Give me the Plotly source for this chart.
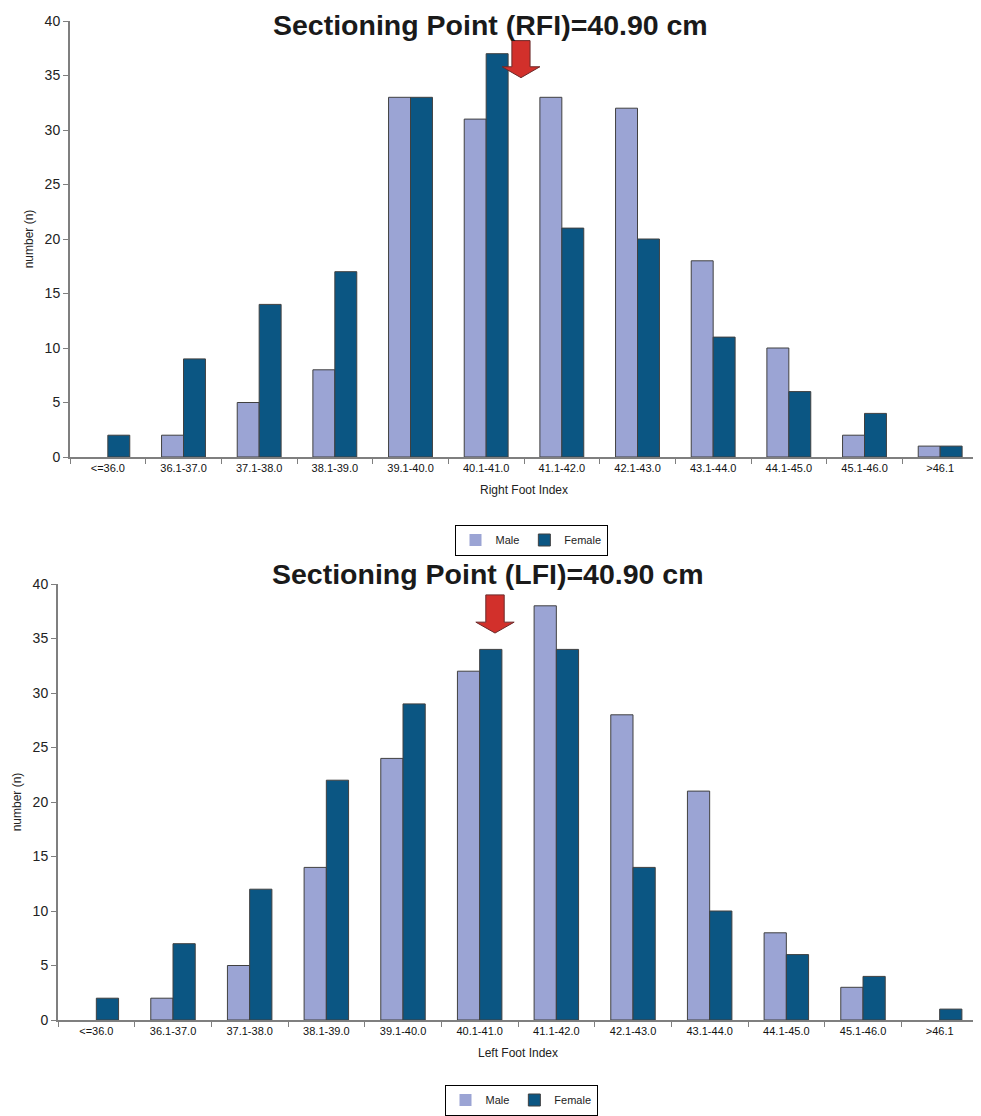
import plotly.graph_objects as go

categories = ["<=36.0", "36.1-37.0", "37.1-38.0", "38.1-39.0", "39.1-40.0", "40.1-41.0",
              "41.1-42.0", "42.1-43.0", "43.1-44.0", "44.1-45.0", "45.1-46.0", ">46.1"]

rfi_male = [0, 2, 5, 8, 33, 31, 33, 32, 18, 10, 2, 1]
rfi_female = [2, 9, 14, 17, 33, 37, 21, 20, 11, 6, 4, 1]

lfi_male = [0, 2, 5, 14, 24, 32, 38, 28, 21, 8, 3, 0]
lfi_female = [2, 7, 12, 22, 29, 34, 34, 14, 10, 6, 4, 1]

titles = ["Sectioning Point (RFI)=40.90 cm", "Sectioning Point (LFI)=40.90 cm"]
xtitles = ["Right Foot Index", "Left Foot Index"]

MALE_C = "#9BA4D4"
FEMALE_C = "#0B5683"
EDGE = "#404040"
AX = "#7f7f7f"
FONT = "Liberation Sans, Arial, sans-serif"

fig = go.Figure()

series = [(rfi_male, rfi_female, "x", "y", "legend"),
          (lfi_male, lfi_female, "x2", "y2", "legend2")]
for male, female, xa, ya, lg in series:
    for vals, name, col in [(male, "Male", MALE_C), (female, "Female", FEMALE_C)]:
        fig.add_trace(go.Bar(x=categories, y=vals, name=name, marker_color=col,
                             marker_line=dict(color=EDGE, width=[0 if v == 0 else 1 for v in vals]),
                             xaxis=xa, yaxis=ya, legend=lg))


def arrow_path(xc, y_top, y_neck, y_tip, bw, hw):
    pts = [(xc - bw / 2, y_top), (xc + bw / 2, y_top), (xc + bw / 2, y_neck),
           (xc + hw / 2, y_neck), (xc, y_tip), (xc - hw / 2, y_neck), (xc - bw / 2, y_neck)]
    return "M " + " L ".join(f"{x:.3f},{y:.3f}" for x, y in pts) + " Z"


# sectioning-point arrows (category-index position, y in counts)
arrows = [(5.46, 38.2, 35.8, 34.8, "x", "y"), (5.20, 39.0, 36.5, 35.5, "x2", "y2")]
for xc, yt, yn, ytip, xr, yr in arrows:
    fig.add_shape(type="path", path=arrow_path(xc, yt, yn, ytip, 0.24, 0.50),
                  xref=xr, yref=yr, fillcolor="#D2302B", line=dict(color="#6b2a2a", width=1))

W, H = 981, 1116
OFF = 8  # page body margin


def px(v):
    return min(1.0, max(0.0, (v - OFF) / W))


def py(v):
    return min(1.0, max(0.0, 1 - (v - OFF) / H))


plots = [(70, 978, 21, 457), (58, 978, 584, 1020)]

axis_common = dict(showline=True, linecolor=AX, linewidth=2, showgrid=False, zeroline=False,
                   ticks="outside", tickcolor=AX, ticklen=5)

layout = dict(width=W, height=H, margin=dict(l=0, r=0, t=0, b=0, autoexpand=False),
              paper_bgcolor="white", plot_bgcolor="white",
              barmode="group", bargap=0.42, bargroupgap=0.0,
              font=dict(family=FONT, color="#222222"))

for i, (x0, x1, y0, y1) in enumerate(plots):
    sx = "" if i == 0 else "2"
    layout["xaxis" + sx] = dict(axis_common, domain=[px(x0), px(x1)], anchor="y" + sx,
                                type="category", range=[-0.5, 11.5], tickson="boundaries",
                                tickfont=dict(size=11, family=FONT, color="#111"),
                                title=dict(text=xtitles[i], font=dict(size=12), standoff=12))
    layout["yaxis" + sx] = dict(axis_common, domain=[py(y1), py(y0)], anchor="x" + sx,
                                range=[0, 40], dtick=5, tickfont=dict(size=14, color="#222"),
                                title=dict(text="number (n)", font=dict(size=12), standoff=8))

layout["legend"] = dict(orientation="h", x=px(531), xanchor="center", y=py(540), yanchor="middle",
                        bordercolor="black", borderwidth=1, font=dict(size=11),
                        itemwidth=30, tracegroupgap=0)
layout["legend2"] = dict(orientation="h", x=px(521), xanchor="center", y=py(1100), yanchor="middle",
                         bordercolor="black", borderwidth=1, font=dict(size=11),
                         itemwidth=30, tracegroupgap=0)

fig.update_layout(**layout)

for t, (cx, cy) in zip(titles, [(490, 25), (488, 574)]):
    fig.add_annotation(text=f"<b>{t}</b>", x=px(cx), y=py(cy), xref="paper", yref="paper",
                       showarrow=False, xanchor="center", yanchor="middle",
                       font=dict(size=28.5, family=FONT, color="#1a1a1a"))

fig.write_html("out.html")
